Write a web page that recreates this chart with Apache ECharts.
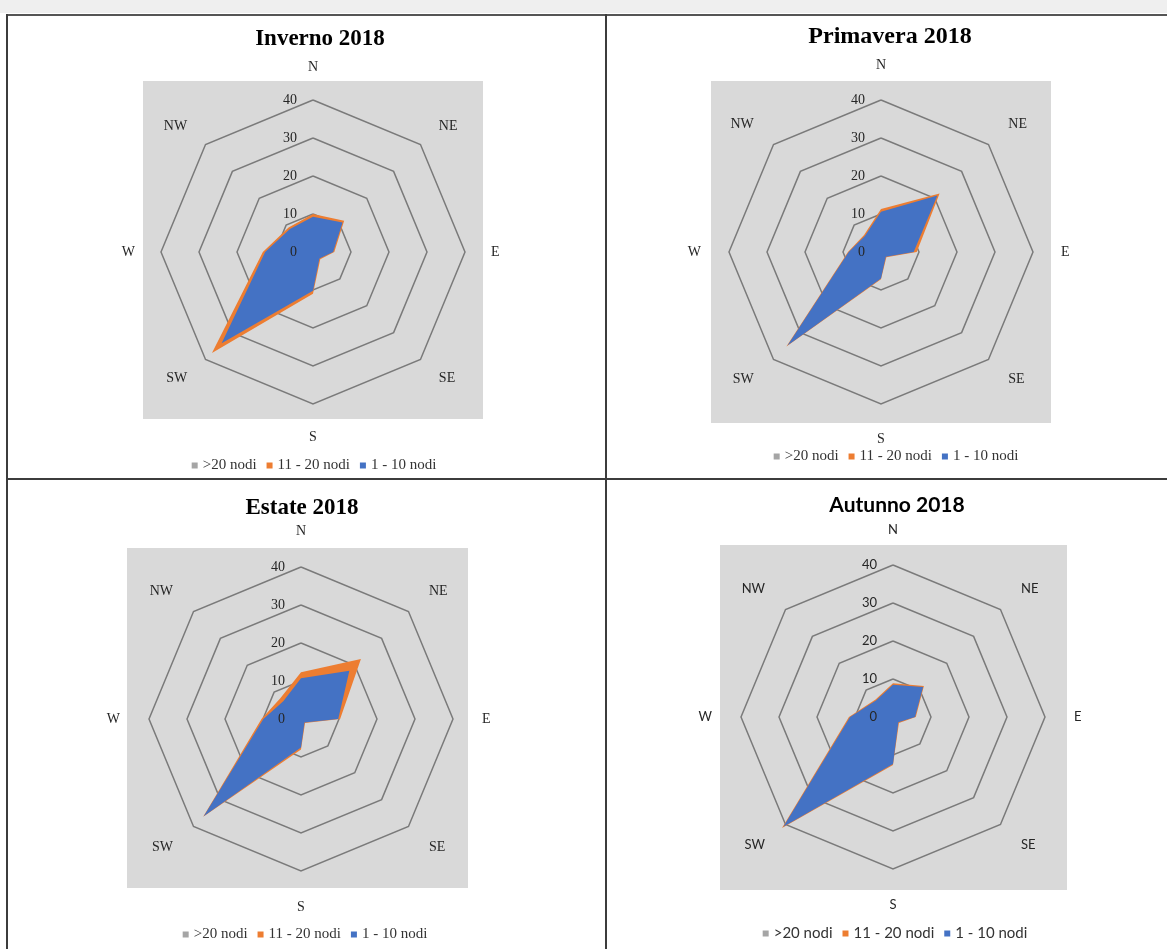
<!DOCTYPE html>
<html><head><meta charset="utf-8">
<script src="https://cdn.jsdelivr.net/npm/echarts@6/dist/echarts.min.js"></script>
<style>
html,body{margin:0;padding:0;background:#fff;width:1167px;height:949px;overflow:hidden;position:relative}
.ln{position:absolute;background:#3c3c3c}
.chart{position:absolute}
</style></head><body>
<div style="position:absolute;left:0;top:0;width:1167px;height:13px;background:#efefef"></div>
<div class="ln" style="left:7px;top:14px;width:1160px;height:2px;background:#555"></div>
<div class="ln" style="left:6px;top:14px;width:2px;height:935px"></div>
<div class="ln" style="left:605px;top:14px;width:2px;height:935px"></div>
<div class="ln" style="left:6px;top:478px;width:1161px;height:2px"></div>
<div id="c0" class="chart"></div>
<div id="c1" class="chart"></div>
<div id="c2" class="chart"></div>
<div id="c3" class="chart"></div>
<script>
// ---- data (compass order N, NE, E, SE, S, SW, W, NW) ----
const directions = ['N', 'NE', 'E', 'SE', 'S', 'SW', 'W', 'NW'];
const seriesNames = ['>20 nodi', '11 - 20 nodi', '1 - 10 nodi'];
const tickLabels = ['0', '10', '20', '30', '40'];
const titles = ['Inverno 2018', 'Primavera 2018', 'Estate 2018', 'Autunno 2018'];

const inverno_gt20   = [0.5, 0.5, 0.3, 0.2, 0.5, 1.5, 0.8, 0.3];
const inverno_11_20  = [10.0, 11.6, 5.6, 2.7, 11.0, 37.6, 13.2, 9.1];
const inverno_1_10   = [9.3, 11.0, 5.3, 2.4, 10.2, 34.0, 12.6, 8.6];

const primavera_gt20  = [0.5, 1.0, 0.3, 0.2, 0.3, 1.0, 0.5, 0.3];
const primavera_11_20 = [11.3, 21.8, 9.4, 2.0, 7.2, 35.2, 8.7, 6.3];
const primavera_1_10  = [10.6, 21.0, 8.6, 1.8, 7.0, 34.8, 8.5, 6.0];

const estate_gt20  = [0.5, 1.0, 0.3, 0.2, 0.3, 1.0, 0.5, 0.3];
const estate_11_20 = [12.3, 22.3, 10.3, 1.5, 8.0, 36.4, 10.4, 7.7];
const estate_1_10  = [10.7, 18.0, 9.8, 1.3, 7.5, 36.2, 9.9, 6.6];

const autunno_gt20  = [0.3, 0.5, 0.3, 0.2, 0.5, 1.0, 0.5, 0.3];
const autunno_11_20 = [8.9, 11.5, 6.0, 2.2, 12.6, 41.3, 11.6, 6.5];
const autunno_1_10  = [8.5, 11.2, 5.8, 2.0, 12.4, 40.8, 11.3, 6.2];

const seriesColors = ['#A5A5A5', '#ED7D31', '#4472C4'];

// ---- layout ----
const panels = [
  {el:'c0', L:24,  T:15,  W:580, H:464, cx:313, cy:252, titleX:320, titleY:39,  titleSize:23, legendY:464, nameGap:26, rect:[143,81,483,419],  serif:true,  data:[inverno_gt20, inverno_11_20, inverno_1_10]},
  {el:'c1', L:606, T:15,  W:580, H:464, cx:881, cy:252, titleX:890, titleY:37,  titleSize:24, legendY:455, nameGap:28, rect:[711,81,1051,423], serif:true,  data:[primavera_gt20, primavera_11_20, primavera_1_10]},
  {el:'c2', L:15,  T:480, W:580, H:469, cx:301, cy:719, titleX:302, titleY:508, titleSize:23, legendY:933, nameGap:29, rect:[127,548,468,888], serif:true,  data:[estate_gt20, estate_11_20, estate_1_10]},
  {el:'c3', L:605, T:480, W:580, H:469, cx:893, cy:717, titleX:897, titleY:505, titleSize:21, legendY:932, nameGap:29, rect:[720,545,1067,890], serif:false, data:[autunno_gt20, autunno_11_20, autunno_1_10]}
];

// ECharts places indicators counter-clockwise from the top
const ccw = [0, 7, 6, 5, 4, 3, 2, 1];
const toCCW = arr => ccw.map(i => arr[i]);
const labelMargin = 16;

panels.forEach((p, k) => {
  const div = document.getElementById(p.el);
  div.style.left = p.L + 'px'; div.style.top = p.T + 'px';
  div.style.width = p.W + 'px'; div.style.height = p.H + 'px';
  const chart = echarts.init(div, null, {renderer: 'canvas'});
  const ff = p.serif ? '"Liberation Serif", "Times New Roman", serif' : 'Lato, "Open Sans", sans-serif';
  const fs = p.serif ? 14 : 13;
  const txt = '#262626';
  const center = [p.cx - p.L, p.cy - p.T];
  chart.setOption({
    animation: false,
    graphic: [{
      type: 'rect', silent: true, z: -10,
      shape: {x: p.rect[0] - p.L, y: p.rect[1] - p.T, width: p.rect[2] - p.rect[0], height: p.rect[3] - p.rect[1]},
      style: {fill: '#D9D9D9'}
    }, {
      // the "0" tick label at the radar centre (ECharts does not draw it)
      type: 'text', silent: true, z: 100,
      x: center[0] - labelMargin, y: center[1],
      style: {text: tickLabels[0], fill: txt, font: fs + 'px ' + ff, textAlign: 'right', textVerticalAlign: 'middle'}
    }],
    title: {
      text: titles[k], left: p.titleX - p.L, top: p.titleY - p.T, padding: 0,
      textAlign: 'center', textVerticalAlign: 'middle',
      textStyle: {fontFamily: ff, fontWeight: 'bold', fontSize: p.titleSize, color: '#000'}
    },
    legend: {
      data: seriesNames, left: 'center', top: p.legendY - p.T - 6, padding: 0,
      icon: 'rect', itemWidth: 6, itemHeight: 6, itemGap: 10, selectedMode: false,
      textStyle: {fontFamily: ff, fontSize: 15, color: '#333'}
    },
    radar: {
      center: center, radius: 152, startAngle: 90, shape: 'polygon', splitNumber: 4,
      indicator: ccw.map(i => ({name: directions[i], min: 0, max: 40, axisLabel: {show: i === 0}})),
      nameGap: p.nameGap,
      axisName: {color: txt, fontFamily: ff, fontSize: fs},
      axisLine: {show: false}, axisTick: {show: false},
      axisLabel: {show: false, showMinLabel: true, color: txt, fontFamily: ff, fontSize: fs, margin: labelMargin,
                  formatter: v => tickLabels[Math.round(v / 10)]},
      splitLine: {lineStyle: {color: '#7A7A7A', width: 1.5}},
      splitArea: {show: false}
    },
    series: [{
      type: 'radar', symbol: 'none', silent: true,
      lineStyle: {width: 0},
      emphasis: {disabled: true},
      data: p.data.map((arr, j) => ({
        name: seriesNames[j], value: toCCW(arr),
        itemStyle: {color: seriesColors[j]},
        lineStyle: {width: 0, color: seriesColors[j]},
        areaStyle: {color: seriesColors[j], opacity: 1}
      }))
    }]
  });
});
</script>
</body></html>
